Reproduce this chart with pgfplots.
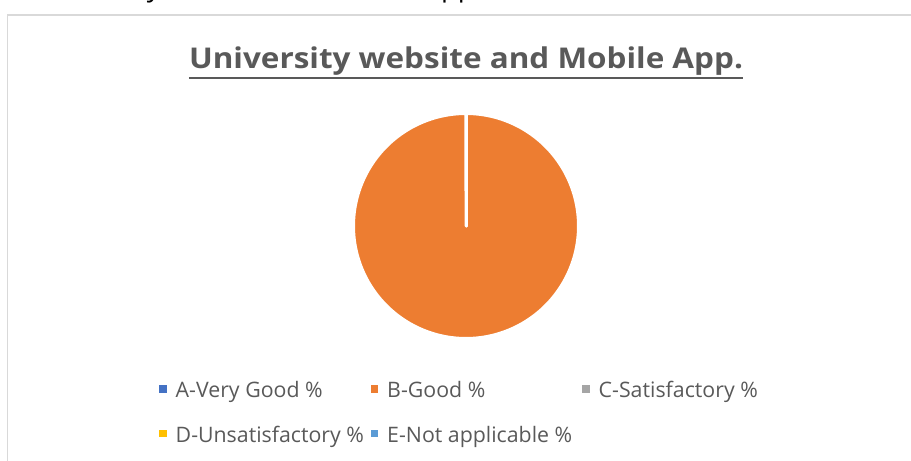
\documentclass[border=0pt]{standalone}
\usepackage{pgfplots}
\usepackage{pgfplotstable}
\pgfplotsset{compat=1.18}
\usepackage{fontspec}
\setmainfont{Open Sans}
\newfontfamily\titlefont[FakeStretch=1.1]{Open Sans Bold}
\definecolor{cA}{HTML}{4472C4}
\definecolor{cB}{HTML}{ED7D31}
\definecolor{cC}{HTML}{A5A5A5}
\definecolor{cD}{HTML}{FFC000}
\definecolor{cE}{HTML}{5B9BD5}
\definecolor{txt}{HTML}{595959}
\definecolor{frame}{HTML}{D9D9D9}

\pgfplotstableread{
label value
A 0
B 100
C 0
D 0
E 0
}\piedata

\begin{document}%
\begin{tikzpicture}[x=1bp,y=1bp]
\pgfplotstablegetelem{0}{value}\of\piedata \let\vA\pgfplotsretval
\pgfplotstablegetelem{1}{value}\of\piedata \let\vB\pgfplotsretval
\pgfplotstablegetelem{2}{value}\of\piedata \let\vC\pgfplotsretval
\pgfplotstablegetelem{3}{value}\of\piedata \let\vD\pgfplotsretval
\pgfplotstablegetelem{4}{value}\of\piedata \let\vE\pgfplotsretval
\pgfmathsetmacro\aA{90}
\pgfmathsetmacro\bA{\aA-3.6*\vA}
\pgfmathsetmacro\bB{\bA-3.6*\vB}
\pgfmathsetmacro\bC{\bB-3.6*\vC}
\pgfmathsetmacro\bD{\bC-3.6*\vD}
\pgfmathsetmacro\bE{\bD-3.6*\vE}
\useasboundingbox (0,0) rectangle (911,461);
\clip (0,0) rectangle (911,461);
\coordinate (PC) at (466,235);
% text of the page above, cut off
\node[overlay, anchor=base west, inner sep=0pt, font=\fontsize{27.5}{33}\selectfont, text=black] at (33,464) {University website and Mobile App.};
% chart area frame
\draw[overlay, frame, line width=1.5bp] (7.5,-5) -- (7.5,446) -- (925,446);
% title
\node[anchor=base, inner sep=0pt, font=\fontsize{28.7}{34}\titlefont, text=txt] (T) at (466,392) {University website and Mobile App.};
\draw[txt, line width=2bp] ([yshift=-9bp]T.base west) -- ([yshift=-9bp]T.base east);
\begin{axis}[
  at={(PC)}, anchor=origin,
  scale only axis, width=225bp, height=225bp,
  xmin=-1, xmax=1, ymin=-1, ymax=1,
  hide axis, clip=false,
  every axis plot/.append style={draw=white, line width=3bp, line join=round, line cap=round},
  legend columns=3,
  legend cell align=left,
  legend image code/.code={\fill[#1, draw=none] (0bp,-2bp) rectangle (7.5bp,5.5bp); \path (15bp,0bp);},
  legend style={
    at={(-0.8644,-0.191)}, anchor=north west,
    draw=none, fill=none,
    font=\fontsize{21.4}{26}\selectfont, text=txt,
    nodes={inner sep=0pt, outer sep=0pt},
    column sep=0pt, row sep=27bp,
    inner sep=0pt,
  },
]
\addplot[fill=cA, variable=\t, domain=0:1, samples=2] ({cos(\aA+(\bA-\aA)*t)},{sin(\aA+(\bA-\aA)*t)}) -- (axis cs:0,0) -- cycle;
\addlegendentry{\makebox[195bp][l]{A-Very Good \%}}
\addplot[fill=cB, variable=\t, domain=0:1, samples=241] ({cos(\bA+(\bB-\bA)*t)},{sin(\bA+(\bB-\bA)*t)}) -- (axis cs:0,0) -- cycle;
\addlegendentry{\makebox[195bp][l]{B-Good \%}}
\addplot[fill=cC, variable=\t, domain=0:1, samples=2] ({cos(\bB+(\bC-\bB)*t)},{sin(\bB+(\bC-\bB)*t)}) -- (axis cs:0,0) -- cycle;
\addlegendentry{\makebox[195bp][l]{C-Satisfactory \%}}
\addplot[fill=cD, variable=\t, domain=0:1, samples=2] ({cos(\bC+(\bD-\bC)*t)},{sin(\bC+(\bD-\bC)*t)}) -- (axis cs:0,0) -- cycle;
\addlegendentry{\makebox[195bp][l]{D-Unsatisfactory \%}}
\addplot[fill=cE, variable=\t, domain=0:1, samples=2] ({cos(\bD+(\bE-\bD)*t)},{sin(\bD+(\bE-\bD)*t)}) -- (axis cs:0,0) -- cycle;
\addlegendentry{\makebox[195bp][l]{E-Not applicable \%}}
\end{axis}
\end{tikzpicture}%
\end{document}
